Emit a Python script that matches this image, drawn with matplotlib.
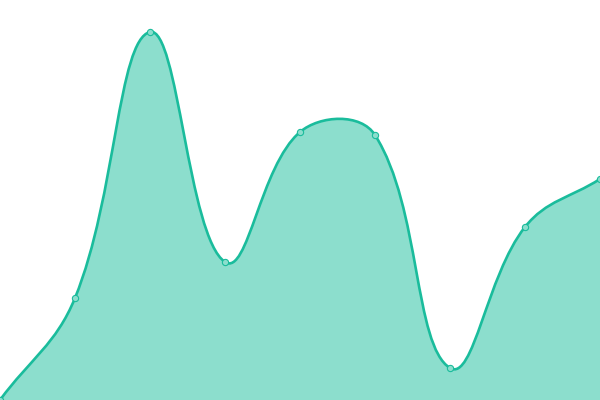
import numpy as np
import matplotlib
matplotlib.use("Agg")
import matplotlib.pyplot as plt
from matplotlib.path import Path
from matplotlib.patches import PathPatch

# data (x positions, heights from the bottom)
xs = [0, 75, 150, 225, 300, 375, 450, 525, 600]
values = [0, 102, 368, 138, 268, 265, 32, 173, 221]

line_color = '#1abc9c'
fill_color = '#8cdecd'
tension = 0.4


def control_points(x, y, t):
    # chart.js style spline control points
    n = len(x)
    pts = np.column_stack([x, y]).astype(float)
    prev_c, next_c = [], []
    for i in range(n):
        cur = pts[i]
        prv = pts[i - 1] if i > 0 else cur
        nxt = pts[i + 1] if i < n - 1 else cur
        d01 = np.hypot(*(cur - prv))
        d12 = np.hypot(*(nxt - cur))
        tot = d01 + d12
        s01 = d01 / tot if tot else 0
        s12 = d12 / tot if tot else 0
        prev_c.append(cur - t * s01 * (nxt - prv))
        next_c.append(cur + t * s12 * (nxt - prv))
    return pts, prev_c, next_c


pts, pc, nc = control_points(xs, values, tension)
verts = [pts[0]]
codes = [Path.MOVETO]
for i in range(len(pts) - 1):
    verts += [nc[i], pc[i + 1], pts[i + 1]]
    codes += [Path.CURVE4] * 3

fig = plt.figure(figsize=(6, 4), dpi=100)
ax = fig.add_axes([0, 0, 1, 1])
ax.set_xlim(0, 600)
ax.set_ylim(0, 400)
ax.axis('off')

area_verts = verts + [(xs[-1], 0), (xs[0], 0), (xs[0], 0)]
area_codes = codes + [Path.LINETO, Path.LINETO, Path.CLOSEPOLY]
ax.add_patch(PathPatch(Path(area_verts, area_codes), facecolor=fill_color,
                       edgecolor='none'))
ax.add_patch(PathPatch(Path(verts, codes), facecolor='none',
                       edgecolor=line_color, linewidth=1.9))
ax.plot(xs, values, 'o', markersize=4.5, markerfacecolor=fill_color,
        markeredgecolor=line_color, markeredgewidth=0.8, clip_on=False)

fig.savefig('out.png', dpi=100)
